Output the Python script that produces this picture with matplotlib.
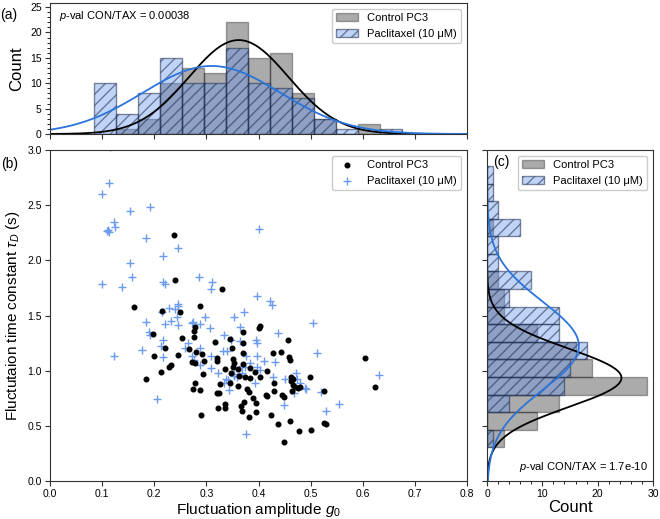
import numpy as np
import matplotlib
matplotlib.use("Agg")
import matplotlib.pyplot as plt
from matplotlib.ticker import MultipleLocator, AutoMinorLocator

plt.rcParams['font.family'] = ['Liberation Sans', 'DejaVu Sans']
plt.rcParams['mathtext.fontset'] = 'custom'
plt.rcParams['mathtext.rm'] = 'Liberation Sans'
plt.rcParams['mathtext.it'] = 'Liberation Sans:italic'

# scatter data: (amplitude g0, time constant tau_D)
control_pts = [
    (0.237, 2.23), (0.240, 1.825), (0.329, 1.737), (0.162, 1.575), (0.288, 1.589), (0.214, 1.541),
    (0.249, 1.529), (0.403, 1.408), (0.400, 1.384), (0.278, 1.400), (0.197, 1.333), (0.277, 1.363),
    (0.371, 1.348), (0.457, 1.278), (0.253, 1.293), (0.317, 1.263), (0.276, 1.308), (0.345, 1.283),
    (0.371, 1.248), (0.221, 1.203), (0.267, 1.197), (0.280, 1.172), (0.245, 1.142), (0.200, 1.133),
    (0.291, 1.151), (0.349, 1.209), (0.321, 1.112), (0.320, 1.091), (0.272, 1.082), (0.278, 1.067),
    (0.296, 1.091), (0.351, 1.103), (0.352, 1.073), (0.351, 1.030), (0.371, 1.163), (0.370, 1.061),
    (0.427, 1.163), (0.443, 1.166), (0.459, 1.127), (0.461, 1.097), (0.233, 1.050), (0.229, 1.035),
    (0.213, 0.991), (0.184, 0.922), (0.335, 1.012), (0.347, 0.975), (0.360, 1.012), (0.363, 0.950),
    (0.374, 0.940), (0.384, 1.021), (0.393, 0.991), (0.416, 1.000), (0.294, 0.967), (0.326, 0.879),
    (0.278, 0.885), (0.274, 0.831), (0.288, 0.825), (0.321, 0.801), (0.324, 0.795), (0.345, 0.885),
    (0.360, 0.861), (0.377, 0.831), (0.381, 0.810), (0.389, 0.749), (0.395, 0.704), (0.373, 0.719),
    (0.366, 0.680), (0.414, 0.780), (0.416, 0.771), (0.430, 0.885), (0.430, 0.818), (0.446, 0.779),
    (0.448, 0.764), (0.384, 0.931), (0.402, 0.946), (0.462, 0.940), (0.466, 0.925), (0.463, 0.905),
    (0.467, 0.870), (0.470, 0.855), (0.475, 0.840), (0.480, 0.850), (0.465, 0.820), (0.368, 0.635),
    (0.381, 0.583), (0.395, 0.622), (0.322, 0.665), (0.335, 0.665), (0.335, 0.700), (0.290, 0.598),
    (0.424, 0.598), (0.437, 0.520), (0.461, 0.540), (0.477, 0.453), (0.448, 0.350), (0.605, 1.118),
    (0.623, 0.855), (0.498, 0.946), (0.525, 0.816), (0.525, 0.523), (0.530, 0.514), (0.500, 0.462),
]
taxol_pts = [
    (0.115, 3.03), (0.114, 2.70), (0.099, 2.60), (0.154, 2.45), (0.192, 2.48), (0.122, 2.35),
    (0.125, 2.30), (0.109, 2.27), (0.114, 2.26), (0.112, 2.275), (0.184, 2.20), (0.400, 2.28),
    (0.246, 2.11), (0.216, 2.04), (0.154, 1.98), (0.157, 1.85), (0.099, 1.79), (0.138, 1.76),
    (0.216, 1.80), (0.221, 1.79), (0.285, 1.85), (0.310, 1.80), (0.308, 1.74), (0.398, 1.680),
    (0.422, 1.635), (0.425, 1.595), (0.245, 1.604), (0.246, 1.586), (0.229, 1.571), (0.240, 1.556),
    (0.214, 1.535), (0.373, 1.529), (0.352, 1.484), (0.297, 1.484), (0.184, 1.438), (0.233, 1.450),
    (0.221, 1.420), (0.243, 1.490), (0.246, 1.414), (0.275, 1.438), (0.272, 1.429), (0.288, 1.420),
    (0.306, 1.384), (0.365, 1.399), (0.189, 1.354), (0.192, 1.323), (0.438, 1.338), (0.334, 1.323),
    (0.347, 1.278), (0.365, 1.269), (0.395, 1.278), (0.397, 1.254), (0.216, 1.278), (0.213, 1.227),
    (0.265, 1.248), (0.259, 1.203), (0.288, 1.209), (0.176, 1.188), (0.216, 1.121), (0.308, 1.133),
    (0.331, 1.179), (0.340, 1.179), (0.376, 1.133), (0.397, 1.133), (0.272, 1.133), (0.276, 1.097),
    (0.432, 1.082), (0.411, 1.088), (0.287, 1.052), (0.308, 1.021), (0.322, 0.976), (0.342, 0.916),
    (0.353, 0.955), (0.368, 1.043), (0.374, 1.037), (0.384, 1.067), (0.398, 1.037), (0.403, 1.006),
    (0.338, 0.922), (0.352, 0.967), (0.358, 0.940), (0.427, 0.946), (0.393, 0.885), (0.451, 0.925),
    (0.344, 0.825), (0.333, 0.885), (0.368, 0.976), (0.472, 0.982), (0.473, 0.925), (0.489, 0.840),
    (0.468, 0.795), (0.449, 0.689), (0.205, 0.740), (0.376, 0.426), (0.504, 1.435), (0.512, 1.163),
    (0.632, 0.961), (0.554, 0.698), (0.529, 0.635), (0.520, 0.810), (0.491, 0.834), (0.480, 0.886),
    (0.122, 1.136),
]

# histogram of g0 (panel a)
g0_edges = [0.0845 + 0.04222 * k for k in range(15)]
g0_control = [0, 1, 3, 10, 13, 12, 22, 15, 16, 8, 3, 0, 2, 0]
g0_taxol = [10, 4, 8, 15, 10, 10, 17, 10, 9, 7, 3, 1, 0, 1]
# histogram of tau_D (panel c)
tau_edges = [0.305 + 0.1594 * k for k in range(17)]
tau_control = [3, 9, 13, 29, 19, 16, 9, 3, 3, 2, 0, 0, 1, 0, 0, 0]
tau_taxol = [1, 0, 4, 14, 15, 18, 13, 13, 4, 8, 2, 2, 6, 2, 1, 1]

# fitted normal curves: amplitude, mean, sigma
g0_fit_control = (18.5, 0.362, 0.0955)
g0_fit_taxol = (13.4, 0.310, 0.132)
tau_fit_control = (24.3, 0.935, 0.265)
tau_fit_taxol = (16.6, 1.225, 0.40)

labels = ["Control PC3", "Paclitaxel (10 μM)"]
pval_g0 = "0.00038"
pval_tau = "1.7e-10"

gray_kw = dict(color='k', alpha=0.33, edgecolor='k', linewidth=1.0)
blue_kw = dict(facecolor=(0.39, 0.58, 0.93, 0.4), edgecolor=(0.12, 0.17, 0.3, 0.55),
               hatch='///', linewidth=1.0)
fit_blue = '#2a74dc'
dot_blue = '#6d9cef'


def gauss(x, p):
    a, m, s = p
    return a * np.exp(-(x - m) ** 2 / (2 * s ** 2))


fig = plt.figure(figsize=(6.6, 5.19), dpi=100)
ax_top = fig.add_axes([0.0758, 0.7418, 0.6318, 0.2524])
ax_main = fig.add_axes([0.0758, 0.0732, 0.6318, 0.6378])
ax_right = fig.add_axes([0.7379, 0.0732, 0.2515, 0.6378])

# panel (a)
e = np.array(g0_edges)
ax_top.bar(e[:-1], g0_control, width=np.diff(e), align='edge', label=labels[0], **gray_kw)
ax_top.bar(e[:-1], g0_taxol, width=np.diff(e), align='edge', label=labels[1], **blue_kw)
xs = np.linspace(0, 0.8, 400)
ax_top.plot(xs, gauss(xs, g0_fit_control), color='k', lw=1.3)
ax_top.plot(xs, gauss(xs, g0_fit_taxol), color=fit_blue, lw=1.3)
ax_top.set_xlim(0, 0.8)
ax_top.set_ylim(0, 25.8)
ax_top.xaxis.set_major_locator(MultipleLocator(0.1))
ax_top.tick_params(axis='x', labelbottom=False)
ax_top.yaxis.set_major_locator(MultipleLocator(5))
ax_top.yaxis.set_minor_locator(AutoMinorLocator(5))
ax_top.set_ylabel("Count", fontsize=12)
ax_top.text(0.022, 0.955, "$p$-val CON/TAX = " + pval_g0, transform=ax_top.transAxes,
            va='top', ha='left', fontsize=8)
ax_top.legend(loc='upper right', fontsize=8, framealpha=1)

# panel (b)
cx, cy = zip(*control_pts)
tx, ty = zip(*taxol_pts)
ax_main.scatter(cx, cy, s=11, color='k', marker='o', label=labels[0], zorder=3)
ax_main.scatter(tx, ty, s=32, color=dot_blue, marker='+', linewidths=1.0, label=labels[1], zorder=2)
ax_main.set_xlim(0, 0.8)
ax_main.set_ylim(0, 3.0)
ax_main.xaxis.set_major_locator(MultipleLocator(0.1))
ax_main.yaxis.set_major_locator(MultipleLocator(0.5))
ax_main.set_xlabel("Fluctuation amplitude $g_0$", fontsize=11, labelpad=1.5)
ax_main.set_ylabel(r"Fluctutaion time constant $\tau_D$ (s)", fontsize=11)
ax_main.legend(loc='upper right', fontsize=8, framealpha=1)

# panel (c)
e = np.array(tau_edges)
ax_right.barh(e[:-1], tau_control, height=np.diff(e), align='edge', label=labels[0], **gray_kw)
ax_right.barh(e[:-1], tau_taxol, height=np.diff(e), align='edge', label=labels[1], **blue_kw)
ys = np.linspace(0, 3.0, 400)
ax_right.plot(gauss(ys, tau_fit_control), ys, color='k', lw=1.3)
ax_right.plot(gauss(ys, tau_fit_taxol), ys, color=fit_blue, lw=1.3)
ax_right.set_ylim(0, 3.0)
ax_right.set_xlim(0, 30)
ax_right.yaxis.set_major_locator(MultipleLocator(0.5))
ax_right.tick_params(axis='y', labelleft=False)
ax_right.xaxis.set_major_locator(MultipleLocator(10))
ax_right.xaxis.set_minor_locator(AutoMinorLocator(5))
ax_right.set_xlabel("Count", fontsize=12, labelpad=0.5)
ax_right.text(0.97, 0.02, "$p$-val CON/TAX = " + pval_tau, transform=ax_right.transAxes,
              va='bottom', ha='right', fontsize=8)
ax_right.text(0.035, 0.985, "(c)", transform=ax_right.transAxes, va='top', ha='left', fontsize=10)
ax_right.legend(loc='upper right', fontsize=8, framealpha=1)

for ax in (ax_top, ax_main, ax_right):
    ax.tick_params(labelsize=7.5, length=3.5, pad=2.5, color='#333333')
    ax.tick_params(which='minor', length=2)
    for sp in ax.spines.values():
        sp.set_color('#333333')

fig.text(0.0, 0.985, "(a)", fontsize=10, va='top', ha='left')
fig.text(0.002, 0.697, "(b)", fontsize=10, va='top', ha='left')

fig.savefig("out.png", dpi=100)
